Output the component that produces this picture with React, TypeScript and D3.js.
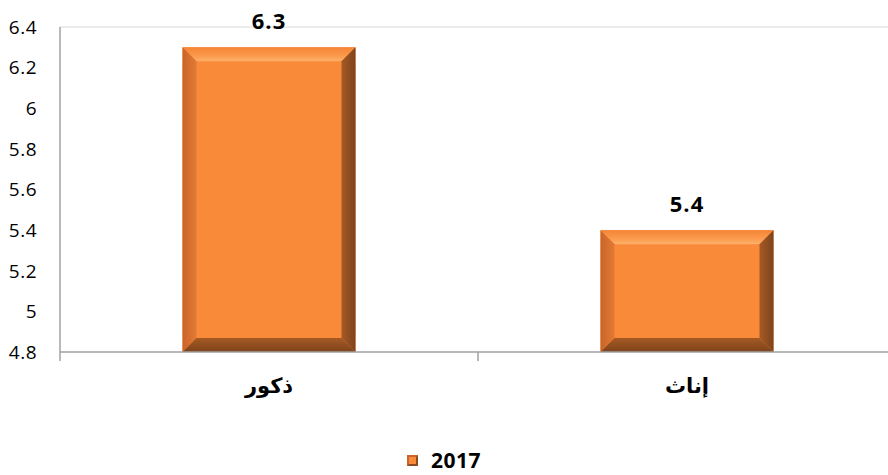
import React from "react";
import * as d3 from "d3";

const categories = ["ذكور", "إناث"];
const values = [6.3, 5.4];
const yTicks = [4.8, 5, 5.2, 5.4, 5.6, 5.8, 6, 6.2, 6.4];
const seriesName = "2017";

const W = 888;
const H = 475;

export default function App() {
  const x = d3.scaleBand<string>().domain(categories).range([60, 896]).paddingInner(0.586).paddingOuter(0.293);
  const y = d3.scaleLinear().domain([4.8, 6.4]).range([352, 27]);
  const bw = x.bandwidth();
  const bv = 14;
  const font = "'Open Sans', 'Liberation Sans', sans-serif";

  return (
    <svg width={W} height={H} style={{ position: "absolute", left: 0, top: 0 }} xmlns="http://www.w3.org/2000/svg">
      <defs>
        <linearGradient id="topG" x1="0" y1="0" x2="0" y2="1">
          <stop offset="0" stopColor="#F58436" />
          <stop offset="0.6" stopColor="#FB9A4C" />
          <stop offset="1" stopColor="#FDB06A" />
        </linearGradient>
        <linearGradient id="leftG" x1="0" y1="0" x2="1" y2="0">
          <stop offset="0" stopColor="#C9652A" />
          <stop offset="1" stopColor="#E27A34" />
        </linearGradient>
        <linearGradient id="rightG" x1="0" y1="0" x2="1" y2="0">
          <stop offset="0" stopColor="#A55A25" />
          <stop offset="1" stopColor="#7E431C" />
        </linearGradient>
        <linearGradient id="botG" x1="0" y1="0" x2="0" y2="1">
          <stop offset="0" stopColor="#A65A24" />
          <stop offset="1" stopColor="#7D421B" />
        </linearGradient>
      </defs>
      <line x1={60} x2={W} y1={y(6.4)} y2={y(6.4)} stroke="#D9D9D9" strokeWidth={1} />
      <line x1={60} x2={60} y1={y(6.4)} y2={y(4.8)} stroke="#A0A0A0" strokeWidth={1.5} />
      {yTicks.map((t) => (
        <text key={t} x={37} y={y(t)} dy="0.36em" textAnchor="end" fontFamily={font} fontSize={19} letterSpacing={0.5} fill="#000">
          {d3.format("")(t)}
        </text>
      ))}
      {categories.map((c, i) => {
        const x0 = x(c)!;
        const x1 = x0 + bw;
        const y0 = y(values[i]);
        const y1 = y(4.8);
        return (
          <g key={c}>
            <rect x={x0} y={y0} width={bw} height={y1 - y0} fill="#F98A3A" />
            <polygon points={`${x0},${y0} ${x1},${y0} ${x1 - bv},${y0 + bv} ${x0 + bv},${y0 + bv}`} fill="url(#topG)" />
            <polygon points={`${x0},${y0} ${x0 + bv},${y0 + bv} ${x0 + bv},${y1 - bv} ${x0},${y1}`} fill="url(#leftG)" />
            <polygon points={`${x1},${y0} ${x1},${y1} ${x1 - bv},${y1 - bv} ${x1 - bv},${y0 + bv}`} fill="url(#rightG)" />
            <polygon points={`${x0},${y1} ${x0 + bv},${y1 - bv} ${x1 - bv},${y1 - bv} ${x1},${y1}`} fill="url(#botG)" />
            <text x={x0 + bw / 2} y={y0 - 18} textAnchor="middle" fontFamily={font} fontWeight="bold" fontSize={22} letterSpacing={1} fill="#000">
              {values[i]}
            </text>
            <text x={x0 + bw / 2} y={393} textAnchor="middle" fontFamily="'DejaVu Sans', sans-serif" fontWeight="bold" fontSize={21} fill="#000">
              {c}
            </text>
          </g>
        );
      })}
      <line x1={60} x2={W} y1={352} y2={352} stroke="#A0A0A0" strokeWidth={1.5} />
      {[60, x(categories[1])! - (x.step() - bw) / 2].map((tx, i) => (
        <line key={i} x1={tx} x2={tx} y1={352} y2={361} stroke="#A0A0A0" strokeWidth={1.5} />
      ))}
      <g>
        <rect x={407} y={455} width={11} height={11} fill="#F98A3A" />
        <polygon points="407,455 418,455 407,466" fill="#C9652A" />
        <polygon points="418,455 418,466 407,466" fill="#8B4A1F" />
        <rect x={409} y={457} width={7} height={7} fill="#F98A3A" />
        <text x={431} y={468} fontFamily={font} fontWeight="bold" fontSize={21} letterSpacing={0.5} fill="#000">
          {seriesName}
        </text>
      </g>
    </svg>
  );
}
